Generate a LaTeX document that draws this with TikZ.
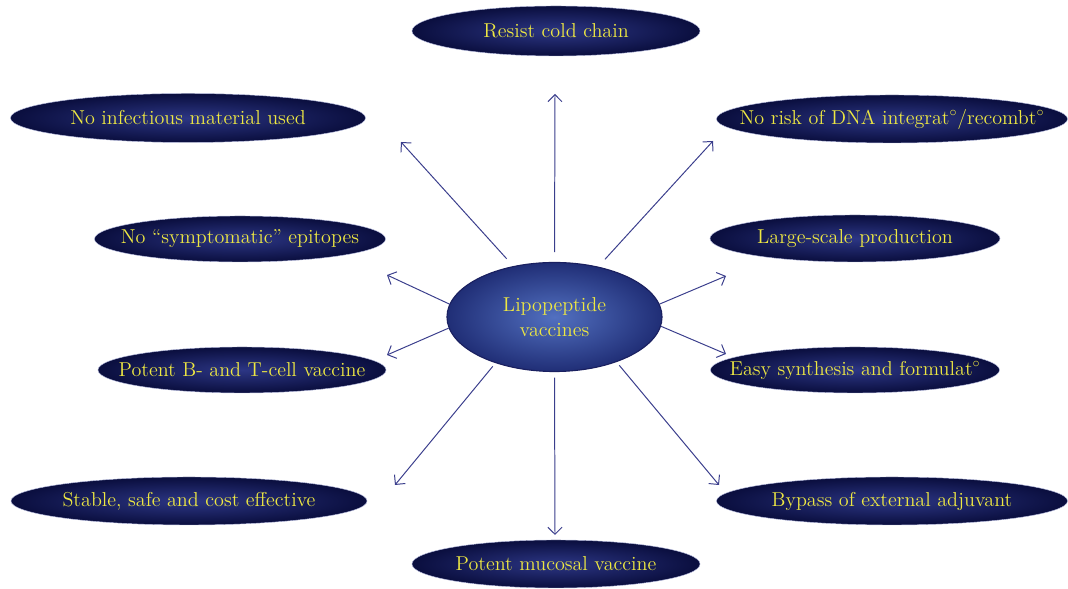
\documentclass[tikz,border=0pt]{standalone}
\usepackage{fontspec}
\usepackage{tikz}
\usetikzlibrary{arrows.meta,shapes.geometric}
\definecolor{navydeep}{RGB}{10,14,62}
\definecolor{navymid}{RGB}{44,54,132}
\definecolor{hubcore}{RGB}{82,112,192}
\definecolor{hubrim}{RGB}{32,46,118}
\definecolor{hubline}{RGB}{26,32,96}
\definecolor{labelyellow}{RGB}{238,232,66}
\definecolor{arrowblue}{RGB}{58,62,140}

\begin{document}
\begin{tikzpicture}[x=0.025cm, y=0.025cm,
    bubble/.style={ellipse, shading=radial, inner color=navymid, outer color=navydeep,
        draw={rgb,255:red,185;green,190;blue,225}, line width=0.3pt,
        inner xsep=-40pt, inner ysep=0pt, text=labelyellow,
        font=\fontsize{14.3}{16}\selectfont},
    hub/.style={ellipse, shading=radial, inner color=hubcore, outer color=hubrim,
        draw=hubline, line width=0.8pt, inner sep=0pt, text=labelyellow, align=center,
        minimum width=5.375cm, minimum height=2.725cm,
        font=\fontsize{14.3}{17.8}\selectfont},
    arr/.style={draw=arrowblue, line width=0.7pt, -{Straight Barb[length=5pt,width=10pt]}},
]
    \useasboundingbox (0,0) rectangle (1068,589);

    \node[hub] (lip) at (554.5,272) {Lipopeptide\\vaccines};

    \node[bubble, minimum width=7.2cm, minimum height=1.25cm] (cold) at (556,558) {Resist cold chain};
    \node[bubble, minimum width=8.875cm, minimum height=1.225cm] (infect) at (188,471) {No infectious material used};
    \node[bubble, minimum width=8.775cm, minimum height=1.2cm] (dna) at (892,470) {No risk of DNA integrat$^\circ$/recombt$^\circ$};
    \node[bubble, minimum width=7.275cm, minimum height=1.15cm] (sympt) at (240,350) {No ``symptomatic'' epitopes};
    \node[bubble, minimum width=7.25cm, minimum height=1.175cm] (large) at (855,350.5) {Large-scale production};
    \node[bubble, minimum width=7.2cm, minimum height=1.15cm] (bt) at (242,219) {Potent B- and T-cell vaccine};
    \node[bubble, minimum width=7.225cm, minimum height=1.15cm] (easy) at (855,219) {Easy synthesis and formulat$^\circ$};
    \node[bubble, minimum width=8.9cm, minimum height=1.2cm] (stable) at (189,88) {Stable, safe and cost effective};
    \node[bubble, minimum width=8.775cm, minimum height=1.2cm] (bypass) at (892,88) {Bypass of external adjuvant};
    \node[bubble, minimum width=7.2cm, minimum height=1.2cm] (mucosal) at (556,25) {Potent mucosal vaccine};

    % arrow tips stop short of the outer ellipses
    \coordinate (tup) at (555,495);
    \coordinate (tul) at (401,447);
    \coordinate (tur) at (713,448);
    \coordinate (tlu) at (387,314);
    \coordinate (tll) at (387,234);
    \coordinate (tru) at (726,313);
    \coordinate (trl) at (726,235);
    \coordinate (tdl) at (395,104);
    \coordinate (tdr) at (719,104);
    \coordinate (tdn) at (555,54);

    \draw[arr, shorten <=7pt] (lip.90) -- (tup);
    \draw[arr, shorten <=7pt] (lip.129) -- (tul);
    \draw[arr, shorten <=7pt] (lip.49) -- (tur);
    \draw[arr] (lip.173) -- (tlu);
    \draw[arr] (lip.186) -- (tll);
    \draw[arr] (lip.7) -- (tru);
    \draw[arr] (lip.-5) -- (trl);
    \draw[arr, shorten <=3pt] (lip.218) -- (tdl);
    \draw[arr, shorten <=3pt] (lip.-36) -- (tdr);
    \draw[arr, shorten <=4pt] (lip.270) -- (tdn);
\end{tikzpicture}
\end{document}
